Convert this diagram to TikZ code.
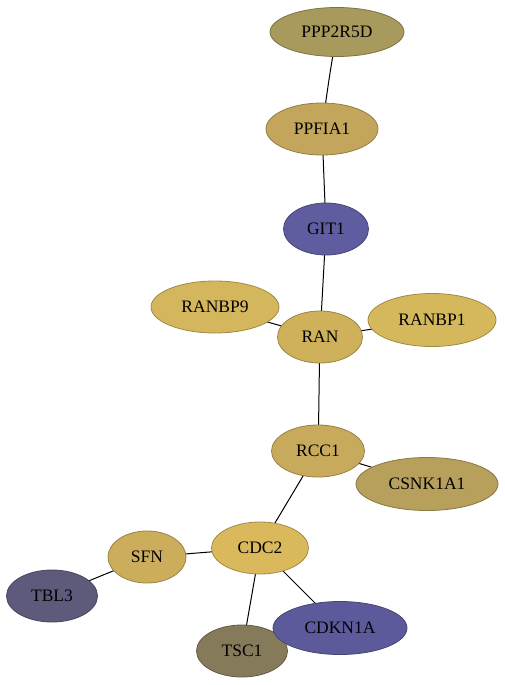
\documentclass[tikz,border=0pt]{standalone}
\usepackage{fontspec}
\setmainfont{Liberation Serif}
\usetikzlibrary{shapes.geometric}
\definecolor{cPPP}{HTML}{A89A5C}
\definecolor{cPPF}{HTML}{C3A65C}
\definecolor{cGIT}{HTML}{5F5C9F}
\definecolor{cRB9}{HTML}{D4B75C}
\definecolor{cRAN}{HTML}{CFB15C}
\definecolor{cRB1}{HTML}{D5B85C}
\definecolor{cRCC}{HTML}{C8AA5C}
\definecolor{cCSN}{HTML}{B7A05C}
\definecolor{cCDC}{HTML}{DAB95C}
\definecolor{cSFN}{HTML}{CBAD5C}
\definecolor{cTBL}{HTML}{5E5A7C}
\definecolor{cTSC}{HTML}{857A5A}
\definecolor{cCDK}{HTML}{5D5A9B}
\tikzset{
  gene/.style={ellipse, inner sep=0pt, line width=0.8pt, font=\fontsize{17.5}{20}\selectfont, text=black},
  link/.style={line width=1pt, black}
}
\begin{document}
\begin{tikzpicture}[x=1pt,y=-1pt]
\useasboundingbox (0,0) rectangle (504,685);
\coordinate (pPPP) at (337,32);
\coordinate (pPPF) at (322,129);
\coordinate (pGIT) at (326,229);
\coordinate (pRB9) at (215,307);
\coordinate (pRAN) at (320,337);
\coordinate (pRB1) at (432,320);
\coordinate (pRCC) at (318,451);
\coordinate (pCSN) at (427,484);
\coordinate (pCDC) at (260,548);
\coordinate (pSFN) at (147,557);
\coordinate (pTBL) at (52,596);
\coordinate (pTSC) at (242,651);
\coordinate (pCDK) at (340,628);
\draw[link] (pPPP) .. controls (330,70) and (326,100) .. (pPPF);
\draw[link] (pPPF) -- (pGIT);
\draw[link] (pGIT) -- (pRAN);
\draw[link] (pRAN) -- (pRB9);
\draw[link] (pRAN) -- (pRB1);
\draw[link] (pRAN) .. controls (319,380) and (319,410) .. (pRCC);
\draw[link] (pRCC) -- (pCSN);
\draw[link] (pRCC) -- (pCDC);
\draw[link] (pCDC) -- (pSFN);
\draw[link] (pSFN) -- (pTBL);
\draw[link] (pCDC) -- (pTSC);
\draw[link] (pCDC) -- (pCDK);
\node[gene, fill=cPPP, draw=cPPP!75!black, minimum width=134pt, minimum height=49pt] (PPP) at (pPPP) {PPP2R5D};
\node[gene, fill=cPPF, draw=cPPF!75!black, minimum width=112pt, minimum height=52pt] (PPF) at (pPPF) {PPFIA1};
\node[gene, fill=cGIT, draw=cGIT!75!black, minimum width=85pt, minimum height=52pt] (GIT) at (pGIT) {GIT1};
\node[gene, fill=cRB9, draw=cRB9!75!black, minimum width=128pt, minimum height=52pt] (RB9) at (pRB9) {RANBP9};
\node[gene, fill=cRAN, draw=cRAN!75!black, minimum width=85pt, minimum height=52pt] (RAN) at (pRAN) {RAN};
\node[gene, fill=cRB1, draw=cRB1!75!black, minimum width=128pt, minimum height=53pt] (RB1) at (pRB1) {RANBP1};
\node[gene, fill=cRCC, draw=cRCC!75!black, minimum width=93pt, minimum height=52pt] (RCC) at (pRCC) {RCC1};
\node[gene, fill=cCSN, draw=cCSN!75!black, minimum width=142pt, minimum height=53pt] (CSN) at (pCSN) {CSNK1A1};
\node[gene, fill=cCDC, draw=cCDC!75!black, minimum width=97pt, minimum height=52pt] (CDC) at (pCDC) {CDC2};
\node[gene, fill=cSFN, draw=cSFN!75!black, minimum width=78pt, minimum height=52pt] (SFN) at (pSFN) {SFN};
\node[gene, fill=cTBL, draw=cTBL!75!black, minimum width=91pt, minimum height=52pt] (TBL) at (pTBL) {TBL3};
\node[gene, fill=cTSC, draw=cTSC!75!black, minimum width=91pt, minimum height=52pt] (TSC) at (pTSC) {TSC1};
\node[gene, fill=cCDK, draw=cCDK!75!black, minimum width=134pt, minimum height=53pt] (CDK) at (pCDK) {CDKN1A};
\end{tikzpicture}
\end{document}
